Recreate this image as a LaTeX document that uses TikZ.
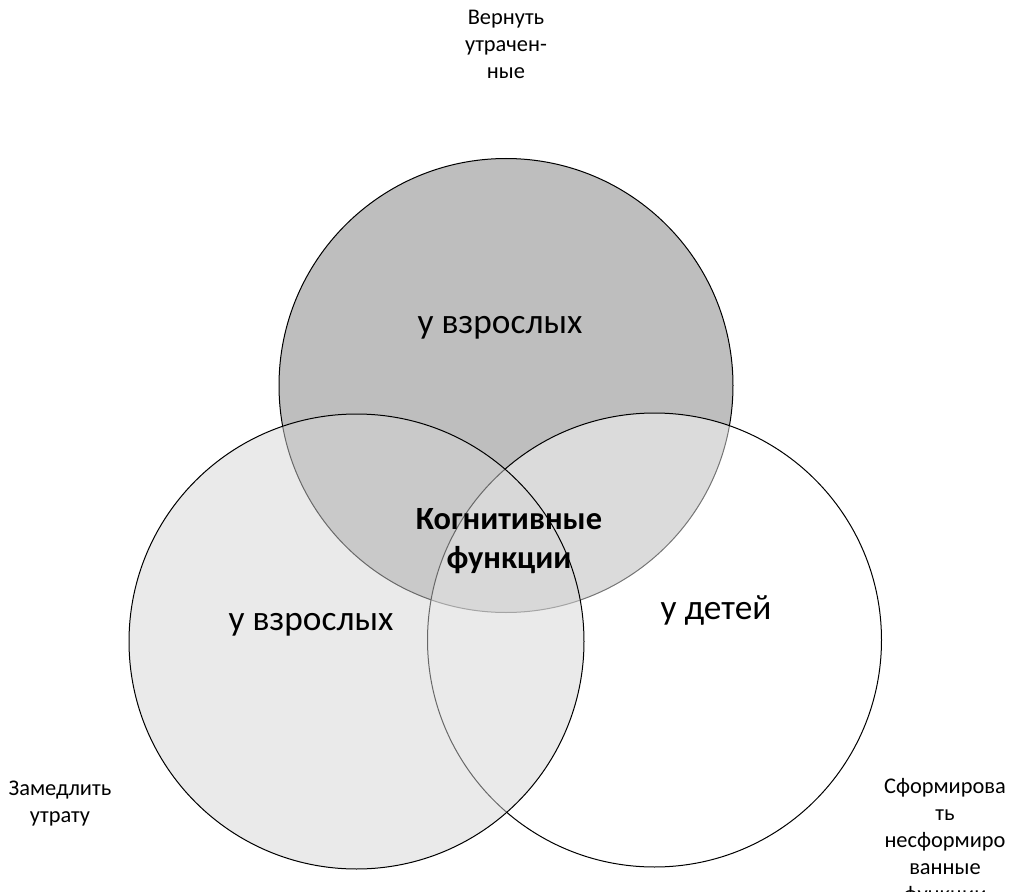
\documentclass[tikz,border=0pt]{standalone}
\usepackage{fontspec}
\setmainfont{Carlito}
\begin{document}
\begin{tikzpicture}[x=0.75pt,y=-0.75pt,
  ring/.style={draw=black,line width=0.75pt},
  small/.style={align=center,font=\fontsize{16.8}{20.2}\selectfont,inner sep=0pt},
  big/.style={align=center,font=\fontsize{26.5}{31}\selectfont,inner sep=0pt},
  core/.style={align=center,font=\fontsize{24.3}{28.8}\selectfont\bfseries,inner sep=0pt}]
\useasboundingbox (0,0) rectangle (1015,892);
\fill[white] (0,0) rectangle (1015,892);
% top circle
\filldraw[ring,fill={rgb,255:red,190;green,190;blue,190}] (506,385.5) circle[radius=227];
% right circle
\fill[white,fill opacity=0.46] (654.5,640) circle[radius=227];
\draw[ring] (654.5,640) circle[radius=227];
% left circle
\fill[fill={rgb,255:red,213;green,213;blue,213},fill opacity=0.49] (356.5,641.5) circle[radius=227.5];
\draw[ring] (356.5,641.5) circle[radius=227.5];
% texts
\node[small] (t1) at (506,44) {Вернуть\\утрачен-\\ные};
\node[small] (t2) at (60,804) {Замедлить\\утрату};
\node[small] (t3) at (945,842) {Сформирова\\ть\\несформиро\\ванные\\функции};
\node[big] (a1) at (500,328) {у взрослых};
\node[big] (a2) at (311,625) {у взрослых};
\node[big] (a3) at (716,610) {у детей};
\node[core] (c) at (509,541) {Когнитивные\\функции};
\end{tikzpicture}
\end{document}
